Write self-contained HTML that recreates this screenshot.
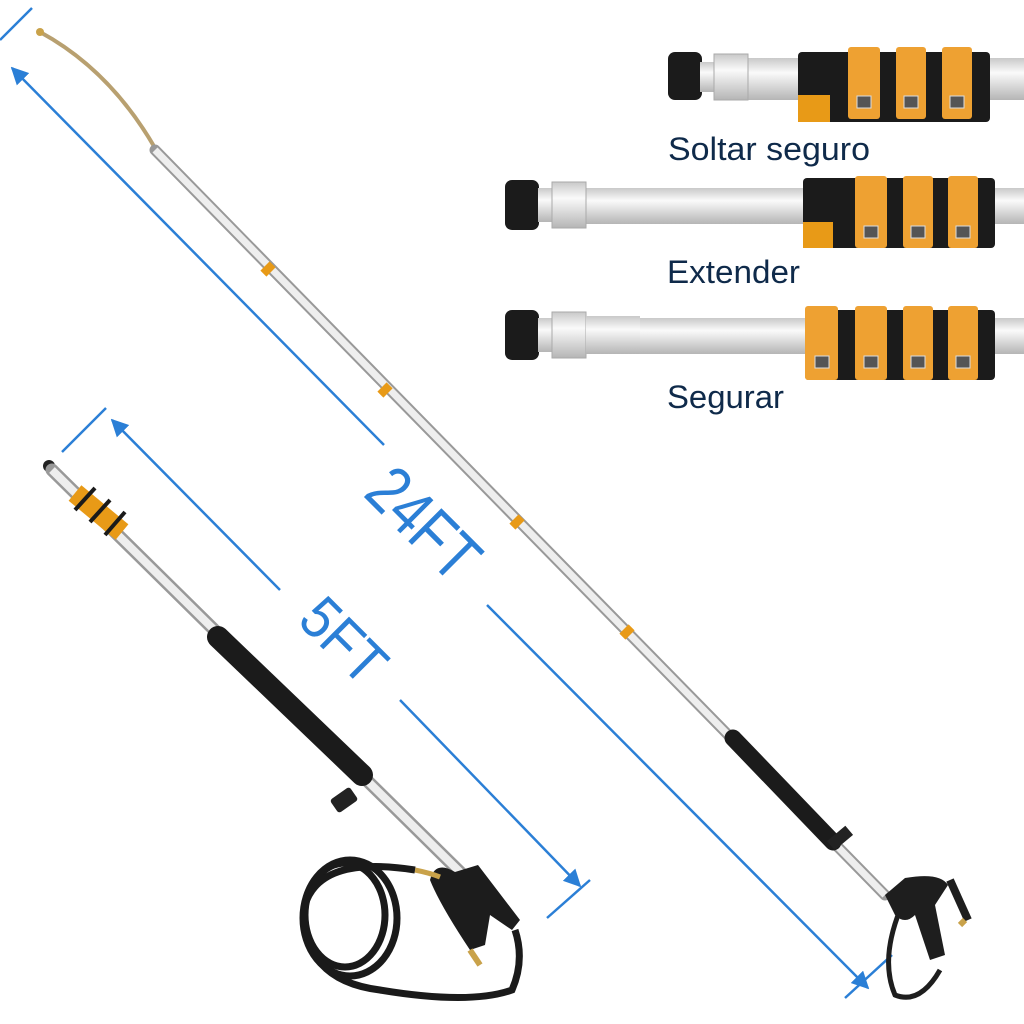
<!DOCTYPE html>
<html><head><meta charset="utf-8"><style>
html,body{margin:0;padding:0;background:#fff}
svg{display:block}
text{font-family:"Liberation Sans","DejaVu Sans",sans-serif}
</style></head><body>
<svg width="1024" height="1024" viewBox="0 0 1024 1024" xmlns="http://www.w3.org/2000/svg">
<defs>
<linearGradient id="sil" x1="0" y1="0" x2="0" y2="1">
<stop offset="0" stop-color="#c9c9c9"/><stop offset="0.35" stop-color="#fafafa"/><stop offset="1" stop-color="#b5b5b5"/></linearGradient>
<marker id="ar" viewBox="0 0 10 10" refX="9" refY="5" markerWidth="7" markerHeight="7" orient="auto-start-reverse"><path d="M0,0 L10,5 L0,10 z" fill="#2b7fd6"/></marker>
</defs>

<g stroke="#2b7fd6" stroke-width="2.5" fill="none">
<line x1="0" y1="40" x2="32" y2="8"/>
<line x1="845" y1="998" x2="892" y2="955"/>
<line x1="384" y1="445" x2="12" y2="68" marker-end="url(#ar)"/>
<line x1="487" y1="605" x2="868" y2="988" marker-end="url(#ar)"/>
<line x1="62" y1="452" x2="106" y2="408"/>
<line x1="547" y1="918" x2="590" y2="880"/>
<line x1="280" y1="590" x2="112" y2="420" marker-end="url(#ar)"/>
<line x1="400" y1="700" x2="580" y2="886" marker-end="url(#ar)"/>
</g>
<text x="0" y="0" font-size="68" fill="#2b7fd6" textLength="128" lengthAdjust="spacingAndGlyphs" transform="translate(362,495) rotate(45)">24FT</text>
<text x="0" y="0" font-size="60" fill="#2b7fd6" textLength="94" lengthAdjust="spacingAndGlyphs" transform="translate(296,622) rotate(45)">5FT</text>

<!-- long wand -->
<path d="M40,32 Q110,70 155,148" stroke="#b8a070" stroke-width="4" fill="none"/>
<circle cx="40" cy="32" r="4" fill="#c9a24a"/>
<line x1="155" y1="150" x2="885" y2="895" stroke="#999" stroke-width="11" stroke-linecap="round"/>
<line x1="155" y1="150" x2="885" y2="895" stroke="#eee" stroke-width="7"/>
<g stroke="#e89a17" stroke-width="13">
<line x1="265" y1="266" x2="271" y2="272"/><line x1="382" y1="387" x2="388" y2="393"/>
<line x1="514" y1="519" x2="520" y2="525"/><line x1="624" y1="629" x2="630" y2="635"/>
</g>
<line x1="733" y1="738" x2="833" y2="842" stroke="#1b1b1b" stroke-width="17" stroke-linecap="round"/>
<rect x="828" y="832" width="24" height="12" fill="#222" transform="rotate(-40 840 838)"/>
<path d="M885,895 L905,878 Q940,872 948,885 L935,905 L945,955 L930,960 L915,915 Q905,925 895,915 Z" fill="#1e1e1e"/>
<path d="M950,880 L968,920" stroke="#1e1e1e" stroke-width="8"/>
<path d="M965,920 L960,925" stroke="#c9a24a" stroke-width="6"/>
<path d="M900,910 Q880,960 895,995 Q920,1005 940,970" stroke="#1e1e1e" stroke-width="5" fill="none"/>

<!-- short wand -->
<circle cx="49" cy="466" r="6" fill="#222"/>
<line x1="52" y1="470" x2="470" y2="882" stroke="#999" stroke-width="13" stroke-linecap="round"/>
<line x1="52" y1="470" x2="470" y2="882" stroke="#eee" stroke-width="8"/>
<line x1="75" y1="493" x2="122" y2="532" stroke="#e89a17" stroke-width="20"/>
<g stroke="#1a1a1a" stroke-width="4"><line x1="75" y1="510" x2="95" y2="488"/><line x1="90" y1="522" x2="110" y2="500"/><line x1="105" y1="535" x2="125" y2="512"/></g>
<line x1="218" y1="637" x2="362" y2="775" stroke="#1b1b1b" stroke-width="22" stroke-linecap="round"/>
<rect x="332" y="792" width="24" height="16" rx="3" fill="#222" transform="rotate(-35 344 800)"/>
<path d="M455,872 L478,865 L520,920 L512,930 L490,915 L485,945 L470,950 Q440,905 430,880 Q435,860 455,872 Z" fill="#1c1c1c"/>
<path d="M470,950 L480,965" stroke="#c9a24a" stroke-width="6"/>
<path d="M440,877 Q430,873 415,870" stroke="#c9a24a" stroke-width="5" fill="none"/>
<g fill="none" stroke="#1a1a1a" stroke-width="7">
<ellipse cx="345" cy="915" rx="40" ry="52"/>
<ellipse cx="350" cy="918" rx="47" ry="58"/>
<path d="M415,870 Q320,855 305,905 Q300,980 380,990 Q470,1005 512,990 Q525,960 515,930"/>
</g>

<!-- detail row 1 -->
<rect x="745" y="58" width="279" height="42" fill="url(#sil)"/>
<rect x="668" y="52" width="34" height="48" rx="7" fill="#1b1b1b"/>
<rect x="700" y="62" width="14" height="30" fill="url(#sil)"/>
<rect x="714" y="54" width="34" height="46" fill="url(#sil)" stroke="#aaa"/>
<rect x="798" y="52" width="192" height="70" rx="4" fill="#1b1b1b"/>
<rect x="798" y="95" width="32" height="27" fill="#e89a17"/>
<rect x="848" y="47" width="32" height="72" rx="3" fill="#eea132"/>
<rect x="896" y="47" width="30" height="72" rx="3" fill="#eea132"/>
<rect x="942" y="47" width="30" height="72" rx="3" fill="#eea132"/>
<text x="668" y="160" font-size="32" fill="#0f2a4a" textLength="202" lengthAdjust="spacingAndGlyphs">Soltar seguro</text>

<!-- detail row 2 -->
<rect x="585" y="188" width="439" height="36" fill="url(#sil)"/>
<rect x="505" y="180" width="34" height="50" rx="7" fill="#1b1b1b"/>
<rect x="538" y="188" width="14" height="34" fill="url(#sil)"/>
<rect x="552" y="182" width="34" height="46" fill="url(#sil)" stroke="#aaa"/>
<rect x="803" y="178" width="192" height="70" rx="4" fill="#1b1b1b"/>
<rect x="803" y="222" width="30" height="26" fill="#e89a17"/>
<rect x="855" y="176" width="32" height="72" rx="3" fill="#eea132"/>
<rect x="903" y="176" width="30" height="72" rx="3" fill="#eea132"/>
<rect x="948" y="176" width="30" height="72" rx="3" fill="#eea132"/>
<text x="667" y="283" font-size="32" fill="#0f2a4a" textLength="133" lengthAdjust="spacingAndGlyphs">Extender</text>

<!-- detail row 3 -->
<rect x="600" y="318" width="424" height="36" fill="url(#sil)"/>
<rect x="505" y="310" width="34" height="50" rx="7" fill="#1b1b1b"/>
<rect x="538" y="318" width="14" height="34" fill="url(#sil)"/>
<rect x="552" y="312" width="34" height="46" fill="url(#sil)" stroke="#aaa"/>
<rect x="586" y="316" width="54" height="38" fill="url(#sil)"/>
<rect x="805" y="310" width="190" height="70" rx="4" fill="#1b1b1b"/>
<rect x="805" y="306" width="33" height="74" rx="3" fill="#eea132"/>
<rect x="855" y="306" width="32" height="74" rx="3" fill="#eea132"/>
<rect x="903" y="306" width="30" height="74" rx="3" fill="#eea132"/>
<rect x="948" y="306" width="30" height="74" rx="3" fill="#eea132"/>
<text x="667" y="408" font-size="32" fill="#0f2a4a" textLength="117" lengthAdjust="spacingAndGlyphs">Segurar</text>
<g fill="#555" stroke="#ddd" stroke-width="1">
<rect x="857" y="96" width="14" height="12"/><rect x="904" y="96" width="14" height="12"/><rect x="950" y="96" width="14" height="12"/>
<rect x="864" y="226" width="14" height="12"/><rect x="911" y="226" width="14" height="12"/><rect x="956" y="226" width="14" height="12"/>
<rect x="815" y="356" width="14" height="12"/><rect x="864" y="356" width="14" height="12"/><rect x="911" y="356" width="14" height="12"/><rect x="956" y="356" width="14" height="12"/>
</g>
</svg>
</body></html>
